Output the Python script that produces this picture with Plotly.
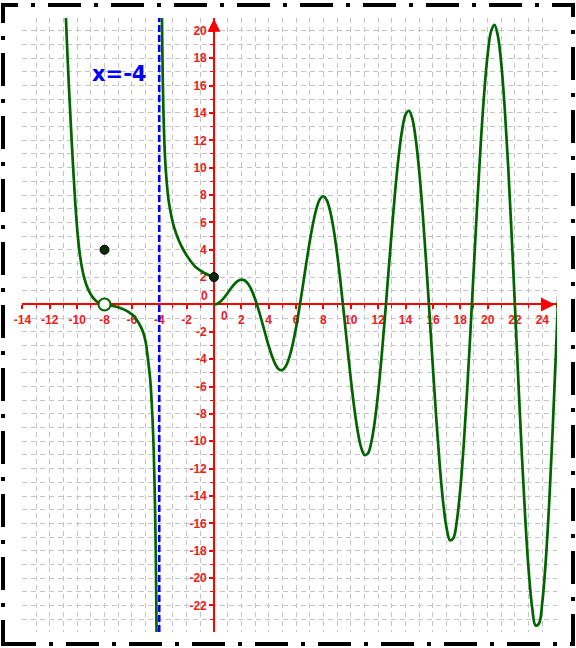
import plotly.graph_objects as go

# ---------------- data ----------------
# branch left of the hole (x < -8)
left_x = [-10.9, -10.82, -10.6, -10.39, -10.15, -9.95, -9.78, -9.5, -9.17, -8.8, -8.45, -8.0]
left_y = [23.5, 20.94, 15.9, 11.8, 7.6, 5.0, 3.5, 2.0, 1.05, 0.45, 0.15, 0.0]

# branch between the hole and the asymptote (-8 < x < -4)
mid_left_x = [-8.0, -7.5, -7.0, -6.6, -6.2, -5.8, -5.5, -5.2, -5.0, -4.8, -4.65, -4.5, -4.4, -4.31, -4.25, -4.2, -4.17]
mid_left_y = [0.0, -0.08, -0.2, -0.36, -0.58, -0.9, -1.35, -1.95, -2.7, -4.2, -5.6, -8.2, -10.8, -14.8, -18.5, -23.5, -27.0]

# branch right of the asymptote (-4 < x <= 0)
mid_x = [-3.85, -3.80, -3.74, -3.68, -3.58, -3.45, -3.3, -3.1, -2.9, -2.6, -2.24, -1.8, -1.3, -0.7, 0.0]
mid_y = [25.5, 20.9, 16.3, 13.6, 10.8, 8.9, 7.5, 6.4, 5.6, 4.75, 4.0, 3.3, 2.7, 2.3, 2.0]

# oscillating branch (x >= 0)
right_x = [0, 0.25, 0.5, 0.75, 1, 1.25, 1.5, 1.75, 2, 2.25, 2.5, 2.75, 3, 3.25, 3.5, 3.75,
           4, 4.25, 4.5, 4.75, 5, 5.25, 5.5, 5.75, 6, 6.25, 6.5, 6.75, 7, 7.25, 7.5, 7.75,
           8, 8.25, 8.5, 8.75, 9, 9.25, 9.5, 9.75, 10, 10.25, 10.5, 10.75, 11, 11.25, 11.5, 11.75,
           12, 12.25, 12.5, 12.75, 13, 13.25, 13.5, 13.75, 14, 14.25, 14.5, 14.75, 15, 15.25, 15.5, 15.75,
           16, 16.25, 16.5, 16.75, 17, 17.25, 17.5, 17.75, 18, 18.25, 18.5, 18.75, 19, 19.25, 19.5, 19.75,
           20, 20.25, 20.5, 20.75, 21, 21.25, 21.5, 21.75, 22, 22.25, 22.5, 22.75, 23, 23.25, 23.5, 23.75,
           24, 24.25, 24.5, 24.75, 25, 25.25]
right_y = [0, 0.06, 0.24, 0.51, 0.84, 1.19, 1.50, 1.72, 1.82, 1.75, 1.50, 1.05, 0.42, -0.35, -1.23, -2.14,
           -3.03, -3.80, -4.40, -4.75, -4.79, -4.51, -3.88, -2.92, -1.68, -0.21, 1.40, 3.04, 4.60, 5.97, 7.04, 7.71,
           7.91, 7.61, 6.79, 5.47, 3.71, 1.61, -0.71, -3.12, -5.44, -7.53, -9.24, -10.43, -11.00, -10.89, -10.07, -8.56,
           -6.44, -3.81, -0.83, 2.33, 5.46, 8.37, 10.85, 12.73, 13.87, 14.16, 13.56, 12.06, 9.75, 6.74, 3.20, -0.66,
           -4.61, -8.38, -11.74, -14.47, -16.34, -17.24, -17.07, -15.82, -13.52, -10.30, -6.34, -1.86, 2.85, 7.50, 11.81, 15.47,
           18.26, 19.96, 20.44, 19.63, 17.57, 14.34, 10.14, 5.19, -0.19, -5.70, -10.96, -15.65, -19.46, -22.12, -23.46, -23.33,
           -21.73, -18.73, -14.49, -9.24, -3.31, 2.95]

filled_x = [-8, 0]
filled_y = [4, 2]
hole_x = [-8]
hole_y = [0]

asymptote_x = -4
asymptote_label = "x=-4"

x_tick_vals = [-14, -12, -10, -8, -6, -4, -2, 2, 4, 6, 8, 10, 12, 14, 16, 18, 20, 22, 24]
y_tick_vals = [-22, -20, -18, -16, -14, -12, -10, -8, -6, -4, -2, 2, 4, 6, 8, 10, 12, 14, 16, 18, 20]
x_tick_text = ["<b>%s</b>" % v for v in x_tick_vals]
y_tick_text = ["<b>%s</b>" % v for v in y_tick_vals]

X_RANGE = [-14.03, 25.07]
Y_RANGE = [-23.94, 20.94]

# ---------------- styling ----------------
CURVE = "#006400"
AXIS = "#ff0000"
GRID = "#c4c4c4"
GRID_DASH = "5px,4px"
TICK_FONT = dict(family="Liberation Sans, Arial, sans-serif", size=12, color="#ee1c1c")

fig = go.Figure()

# asymptote
fig.add_trace(go.Scatter(x=[asymptote_x, asymptote_x], y=[Y_RANGE[0], Y_RANGE[1]],
                         mode="lines", line=dict(color="#0000ff", width=2.6, dash="7px,3px"),
                         hoverinfo="skip"))

for xs, ys in [(left_x, left_y), (mid_left_x, mid_left_y), (mid_x, mid_y), (right_x, right_y)]:
    fig.add_trace(go.Scatter(x=xs, y=ys, mode="lines",
                             line=dict(color=CURVE, width=2.7, shape="spline", smoothing=1)))

# points
fig.add_trace(go.Scatter(x=filled_x, y=filled_y, mode="markers",
                         marker=dict(size=9, color="#0b2b0b", line=dict(color="#000000", width=1))))
fig.add_trace(go.Scatter(x=hole_x, y=hole_y, mode="markers",
                         marker=dict(size=12, color="white", line=dict(color=CURVE, width=2))))

# axis arrow heads
fig.add_trace(go.Scatter(x=[X_RANGE[1] - 0.15], y=[0], mode="markers", cliponaxis=False,
                         marker=dict(symbol="arrow-right", size=14, color=AXIS, line=dict(width=0))))
fig.add_trace(go.Scatter(x=[0], y=[Y_RANGE[1] - 0.05], mode="markers", cliponaxis=False,
                         marker=dict(symbol="arrow-up", size=13, color=AXIS, line=dict(width=0))))

x_pos = (0 - Y_RANGE[0]) / (Y_RANGE[1] - Y_RANGE[0])
y_pos = (0 - X_RANGE[0]) / (X_RANGE[1] - X_RANGE[0])

common = dict(showline=True, linecolor=AXIS, linewidth=1.6, zeroline=False,
              showgrid=True, gridcolor=GRID, gridwidth=1, griddash=GRID_DASH,
              ticks="outside", ticklen=4, tickwidth=1.5, tickcolor=AXIS,
              tickfont=TICK_FONT, anchor="free", layer="below traces", fixedrange=True,
              minor=dict(tickmode="linear", tick0=0, dtick=1, showgrid=True, gridcolor=GRID,
                         gridwidth=1, griddash=GRID_DASH, ticks="outside", ticklen=3,
                         tickwidth=1, tickcolor=AXIS))

fig.update_layout(
    width=576, height=648,
    margin=dict(l=22, r=19, t=18, b=16),
    paper_bgcolor="white", plot_bgcolor="white",
    showlegend=False,
    xaxis=dict(range=X_RANGE, position=x_pos, tickmode="array",
               tickvals=x_tick_vals, ticktext=x_tick_text, **common),
    yaxis=dict(range=Y_RANGE, position=y_pos, tickmode="array",
               tickvals=y_tick_vals, ticktext=y_tick_text, **common),
)

# the two "0" labels, offset like in the picture
fig.add_annotation(x=0, y=0, xref="x", yref="y", text="<b>0</b>", showarrow=False,
                   font=TICK_FONT, xanchor="center", yanchor="middle", xshift=11, yshift=-12)
fig.add_annotation(x=0, y=0, xref="x", yref="y", text="<b>0</b>", showarrow=False,
                   font=TICK_FONT, xanchor="right", yanchor="middle", xshift=-4, yshift=8)

# asymptote label
fig.add_annotation(x=-6.91, y=16.85, xref="x", yref="y", text="<b>%s</b>" % asymptote_label,
                   showarrow=False, font=dict(family="DejaVu Sans", size=21, color="#0000ff"),
                   xanchor="center", yanchor="middle")

# dash-dot frame round the whole picture
L, R, T, B = 22, 19, 18, 16
pw, ph = 576 - L - R, 648 - T - B
fig.add_shape(type="rect", xref="paper", yref="paper",
              x0=(3 - L) / pw, x1=(573 - L) / pw,
              y0=(648 - B - 644) / ph, y1=(648 - B - 5) / ph,
              line=dict(color="black", width=4, dash="33px,13px,4px,13px"),
              fillcolor="rgba(0,0,0,0)", layer="above")

fig.write_html("out.html", include_plotlyjs=True, full_html=True,
               config={"displayModeBar": False},
               post_script="document.body.style.margin='0px';document.body.style.overflow='hidden';")
